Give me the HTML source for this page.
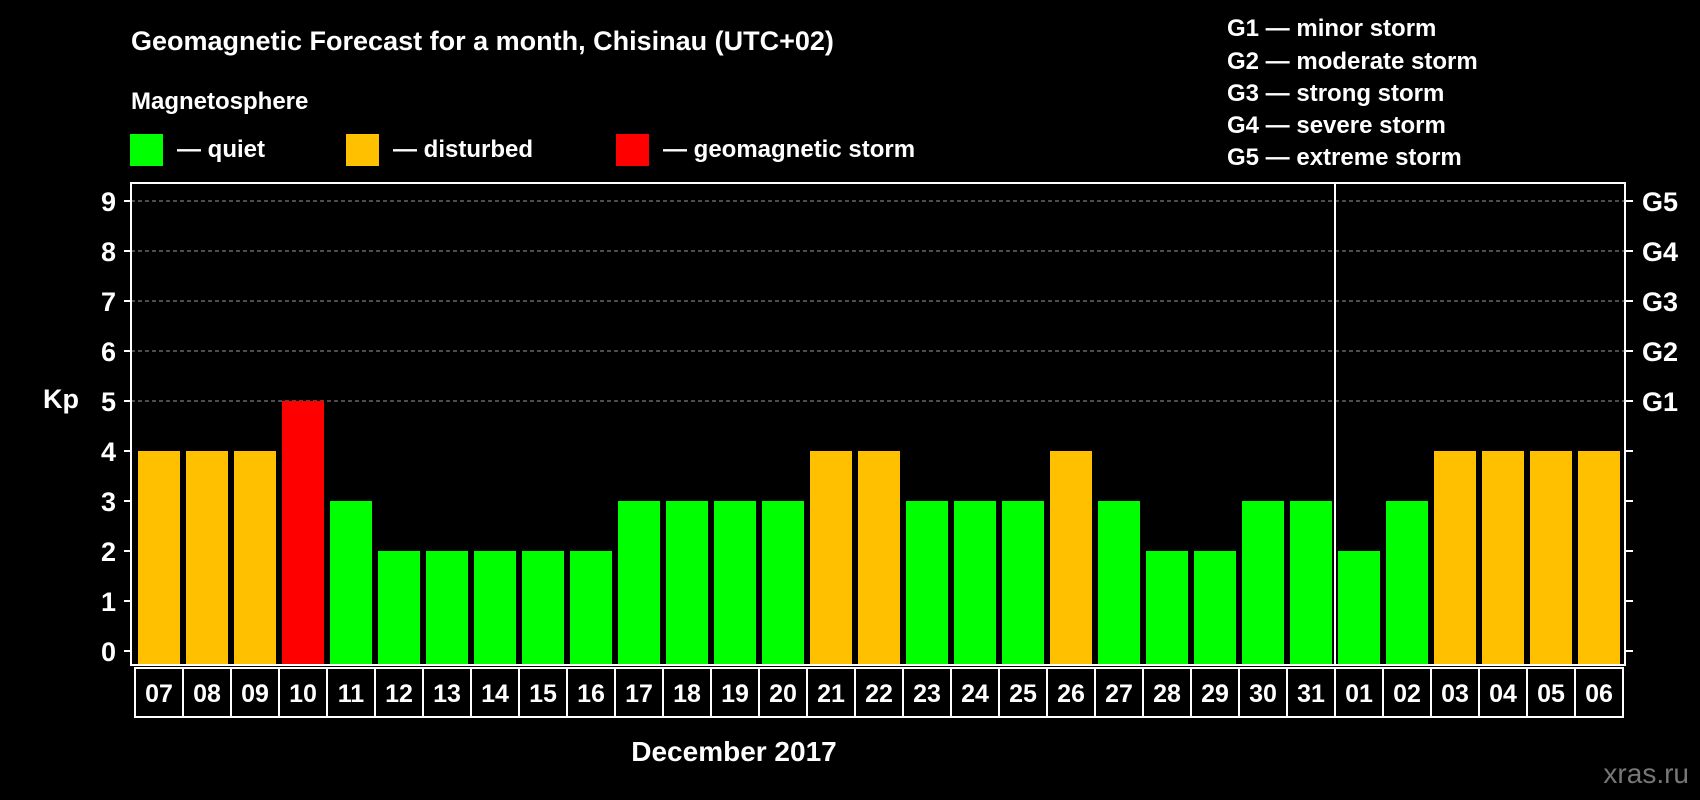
<!DOCTYPE html>
<html><head><meta charset="utf-8"><style>
html,body{margin:0;padding:0;background:#000;}
svg{display:block;font-family:"Liberation Sans",Arial,sans-serif;font-weight:bold;}
</style></head><body>
<svg id="chart" width="1700" height="800" viewBox="0 0 1700 800" xmlns="http://www.w3.org/2000/svg">
<rect x="0" y="0" width="1700" height="800" fill="#000"/>
<text x="131" y="50" fill="#fff" font-size="27">Geomagnetic Forecast for a month, Chisinau (UTC+02)</text>
<text x="131" y="109" fill="#fff" font-size="24">Magnetosphere</text>
<g><rect x="130" y="134" width="33" height="32" fill="#00ff00"/><text x="177" y="157" fill="#fff" font-size="24">— quiet</text></g>
<g><rect x="346" y="134" width="33" height="32" fill="#ffc000"/><text x="393" y="157" fill="#fff" font-size="24">— disturbed</text></g>
<g><rect x="616" y="134" width="33" height="32" fill="#ff0000"/><text x="663" y="157" fill="#fff" font-size="24">— geomagnetic storm</text></g>
<g fill="#fff" font-size="24">
<text x="1227" y="36">G1 — minor storm</text>
<text x="1227" y="69">G2 — moderate storm</text>
<text x="1227" y="101">G3 — strong storm</text>
<text x="1227" y="133">G4 — severe storm</text>
<text x="1227" y="165">G5 — extreme storm</text>
</g>
<text x="43" y="408" fill="#fff" font-size="27">Kp</text>
<text x="734" y="761" fill="#fff" font-size="28" text-anchor="middle">December 2017</text>
<text x="1689" y="783" fill="#777" font-size="28" text-anchor="end" font-weight="normal">xras.ru</text>
<g id="grid"></g><g id="bars"></g><g id="axes"></g><g id="xlabels"></g>
</svg>
<script>
const days = ["07","08","09","10","11","12","13","14","15","16","17","18","19","20","21","22","23","24","25","26","27","28","29","30","31","01","02","03","04","05","06"];
const kpValues = [4,4,4,5,3,2,2,2,2,2,3,3,3,3,4,4,3,3,3,4,3,2,2,3,3,2,3,4,4,4,4];
const yTicks = [0,1,2,3,4,5,6,7,8,9];
const gLabels = ["G1","G2","G3","G4","G5"];
const gLevels = [5,6,7,8,9];
const monthBreakIndex = 25;

const NS = "http://www.w3.org/2000/svg";
const plotL = 131, plotR = 1625, plotT = 183, plotB = 665;
const y0 = 651, unit = 50;
const barX0 = 138, pitch = 48, barW = 42;
function yScale(v){ return y0 - v*unit; }
function xScale(i){ return barX0 + i*pitch; }
function mk(tag, attrs, parent){ const e=document.createElementNS(NS,tag); for(const k in attrs) e.setAttribute(k,attrs[k]); parent.appendChild(e); return e; }
function colorFor(v){ return v>=5 ? "#ff0000" : (v>=4 ? "#ffc000" : "#00ff00"); }

const grid = document.getElementById("grid");
gLevels.forEach(function(v){
  const l = mk("line",{x1:plotL,x2:plotR,y1:yScale(v),y2:yScale(v),stroke:"#999","stroke-width":1,"stroke-dasharray":"4,3"},grid);
  
  
});

const bars = document.getElementById("bars");
kpValues.forEach(function(v,i){
  const r = mk("rect",{x:xScale(i),y:yScale(v),width:barW,height:plotB-yScale(v),fill:colorFor(v)},bars);
  
  
});

const axes = document.getElementById("axes");
const frame = mk("rect",{x:plotL,y:plotT,width:plotR-plotL,height:plotB-plotT,fill:"none",stroke:"#fff","stroke-width":2},axes);


const divX = (xScale(monthBreakIndex-1)+barW + xScale(monthBreakIndex))/2;
const div = mk("line",{x1:divX,x2:divX,y1:plotT,y2:plotB,stroke:"#fff","stroke-width":2},axes);


yTicks.forEach(function(v){
  const y = yScale(v);
  const t1 = mk("line",{x1:plotL-7,x2:plotL,y1:y,y2:y,stroke:"#fff","stroke-width":2},axes);
  
  
  const t2 = mk("line",{x1:plotR,x2:plotR+8,y1:y,y2:y,stroke:"#fff","stroke-width":2},axes);
  
  
  const tx = mk("text",{x:116,y:y+10,fill:"#fff","font-size":27,"text-anchor":"end"},axes);
  tx.textContent = String(v);
  
  
});
gLabels.forEach(function(g,i){
  const tx = mk("text",{x:1642,y:yScale(gLevels[i])+10,fill:"#fff","font-size":27},axes);
  tx.textContent = g;
  
  
});

const xl = document.getElementById("xlabels");
days.forEach(function(d,i){
  const bx = xScale(i) - 3;
  const b = mk("rect",{x:bx,y:668,width:pitch,height:49,fill:"none",stroke:"#fff","stroke-width":2},xl);
  
  
  const t = mk("text",{x:bx+pitch/2,y:702,fill:"#fff","font-size":25,"text-anchor":"middle"},xl);
  t.textContent = d;
  
  
});
</script>
</body></html>
